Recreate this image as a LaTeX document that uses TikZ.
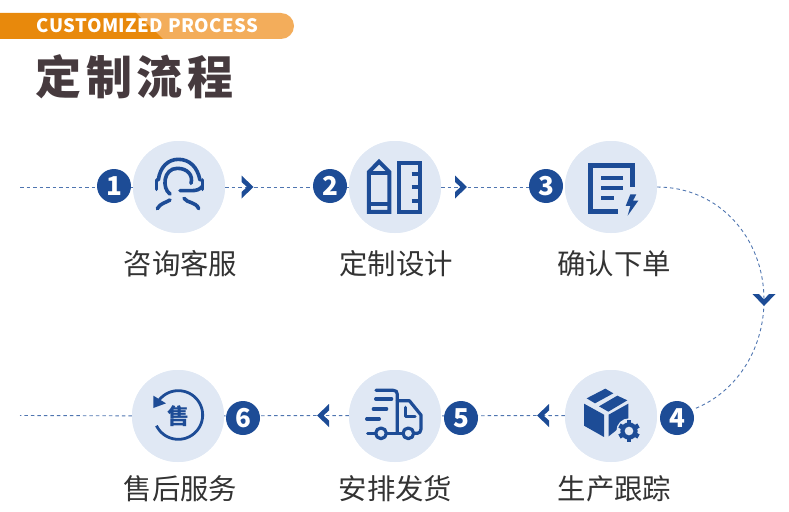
\documentclass[tikz,border=0pt]{standalone}
\usepackage{fontspec}
\setmainfont{Noto Sans CJK SC}
\definecolor{navy}{HTML}{1D4C96}
\definecolor{disc}{HTML}{E0E8F4}
\definecolor{dashc}{HTML}{4F75B0}
\definecolor{orangeA}{HTML}{E8890C}
\definecolor{orangeB}{HTML}{F3AD5B}
\definecolor{titlec}{HTML}{463A3E}
\definecolor{labelc}{HTML}{333333}
\tikzset{
  discnode/.style={circle,fill=disc,minimum size=92pt,inner sep=0pt},
  badgenode/.style={circle,fill=navy,minimum size=34pt,inner sep=0pt,text=white,font=\fontsize{26}{26}\selectfont\bfseries},
  labelnode/.style={inner sep=0pt,text=labelc,font=\fontsize{28.4}{28.4}\selectfont},
  conn/.style={draw=dashc,line width=.9pt,dash pattern=on 3.5pt off 3pt},
  zoomgrid/.style={x=.3333pt,y=-.3333pt},
  iconline/.style={draw=navy,line width=#1,fill=none},
  chevron/.pic={\fill[navy] (-6,-11.5) -- (6,0) -- (-6,11.5) -- (-6,5) -- (-0.5,0) -- (-6,-5) -- cycle;}
}
\begin{document}
\begin{tikzpicture}[x=1pt,y=-1pt]
\useasboundingbox (0,0) rectangle (789,511);
% banner
\fill[orangeB,rounded corners=13pt] (100,13) rectangle (294,39);
\fill[orangeB] (0,13) rectangle (120,39);
\fill[orangeA] (0,13) -- (136,13) -- (163,39) -- (0,39) -- cycle;
\node[anchor=base west,inner sep=0pt,text=white,font=\fontsize{18.5}{18.5}\selectfont\bfseries] (bannertext) at (36.5,33) {\addfontfeatures{LetterSpace=2.6}CUSTOMIZED PROCESS};
\node[anchor=center,inner sep=0pt,text=titlec,font=\fontsize{46}{46}\selectfont\bfseries] (title) at (134.5,77) {\addfontfeatures{LetterSpace=9.5}定制流程};
% coordinates
\coordinate (start1) at (20,187);
\coordinate (start2) at (20,415.5);
\coordinate (ch1) at (247.5,187);
\coordinate (ch2) at (461,187);
\coordinate (ch3) at (764,300);
\coordinate (ch4) at (543,415.5);
\coordinate (ch5) at (323,415.5);
% discs and badges
\node[discnode] (c1) at (179,187) {};
\node[discnode] (c2) at (395,187) {};
\node[discnode] (c3) at (611,187) {};
\node[discnode] (c4) at (611,416) {};
\node[discnode] (c5) at (395,416) {};
\node[discnode] (c6) at (178,416) {};
% connectors
\draw[conn] (start1) -- (c1);
\draw[conn] (c1) -- (ch1);
\draw[conn] (ch1) -- (c2);
\draw[conn] (c2) -- (ch2);
\draw[conn] (ch2) -- (c3);
\coordinate (arcS) at (657,187);
\coordinate (arcE) at (694,409);
\draw[conn] (arcS) .. controls (719,187) and (764,238) .. (ch3) .. controls (764,351) and (735,393) .. (arcE);
\draw[conn] (c4) -- (ch4);
\draw[conn] (ch4) -- (c5);
\draw[conn] (c5) -- (ch5);
\draw[conn] (ch5) -- (c6);
\draw[conn] (c6) -- (start2);
\fill[disc] (c1) circle (46); \fill[disc] (c2) circle (46); \fill[disc] (c3) circle (46);
\fill[disc] (c4) circle (46); \fill[disc] (c5) circle (46); \fill[disc] (c6) circle (46);
\pic at (ch1) {chevron};
\pic at (ch2) {chevron};
\pic[rotate=-90] at (ch3) {chevron};
\pic[rotate=180] at (ch4) {chevron};
\pic[rotate=180] at (ch5) {chevron};
\node[badgenode] (b1) at (114,186) {1};
\node[badgenode] (b2) at (330,186) {2};
\node[badgenode] (b3) at (546,186) {3};
\node[badgenode] (b4) at (677,418) {4};
\node[badgenode] (b5) at (461,418) {5};
\node[badgenode] (b6) at (243,418) {6};
% labels
\node[labelnode] (l1) at (180.5,264) {咨询客服};
\node[labelnode] (l2) at (396,264) {定制设计};
\node[labelnode] (l3) at (614,264) {确认下单};
\node[labelnode] (l4) at (614.5,489) {生产跟踪};
\node[labelnode] (l5) at (395.5,489) {安排发货};
\node[labelnode] (l6) at (180.5,489) {售后服务};
% icon 1
\begin{scope}[shift={(90,130)},zoomgrid,line cap=round]
\draw[iconline=3.6pt] (205,150) .. controls (210,110) and (235,88) .. (265,88) .. controls (298,88) and (322,110) .. (330,150);
\draw[iconline=3.6pt] (200,150) -- (200,178);
\draw[iconline=3.6pt] (338,150) -- (338,178);
\draw[iconline=3.6pt] (240,192) .. controls (215,175) and (220,115) .. (262,115) .. controls (292,115) and (310,135) .. (303,160);
\draw[iconline=3.6pt] (270,182) -- (305,182) .. controls (320,182) and (330,178) .. (336,170);
\draw[iconline=3.6pt] (202,236) .. controls (210,220) and (228,218) .. (240,210);
\draw[iconline=3.6pt] (282,205) .. controls (292,220) and (318,215) .. (326,236);
\end{scope}
% icon 2
\begin{scope}[shift={(310,130)},zoomgrid,line join=miter]
\draw[iconline=4pt] (177,126) -- (207,95) -- (238,126) -- (238,246) -- (177,246) -- cycle;
\draw[iconline=4pt] (177,129) -- (238,129);
\draw[iconline=4pt] (177,222) -- (238,222);
\draw[iconline=4pt] (266,100) rectangle (331,246);
\draw[iconline=4pt] (305,132) -- (331,132);
\draw[iconline=4pt] (305,172) -- (331,172);
\draw[iconline=4pt] (305,212) -- (331,212);
\end{scope}
% icon 3
\begin{scope}[shift={(525,130)},zoomgrid]
\draw[iconline=4.6pt] (323,170) -- (323,106) -- (197,106) -- (197,245) -- (280,245);
\draw[iconline=4.2pt] (228,144) -- (293,144);
\draw[iconline=4.2pt] (228,173) -- (293,173);
\draw[iconline=4.2pt] (228,203) -- (266,203);
\fill[navy] (316,193) -- (302,228) -- (316,228) -- (308,257) -- (340,212) -- (324,212) -- (334,193) -- cycle;
\end{scope}
% icon 4
\begin{scope}[shift={(530,365)},zoomgrid]
\fill[navy] (162,116) -- (222,149) -- (222,216) -- (162,182) -- cycle;
\fill[navy] (236,149) -- (295,116) -- (295,166) -- (270,172) -- (260,195) -- (236,214) -- cycle;
\fill[navy] (170,100) -- (226,71) -- (250,85) -- (195,115) -- cycle;
\fill[navy] (207,124) -- (262,92) -- (292,106) -- (235,140) -- cycle;
\fill[disc] (297,198) circle (38);
\foreach \a in {0,60,...,300}{\fill[navy,shift={(297,198)},rotate=\a] (-7,-33) rectangle (7,-15);}
\fill[navy] (297,198) circle (26);
\fill[disc] (297,198) circle (13);
\end{scope}
% icon 5
\begin{scope}[shift={(310,365)},zoomgrid,line cap=round,line join=round]
\draw[iconline=3.2pt] (198,76) -- (250,76) .. controls (258,76) and (262,80) .. (262,88) -- (262,205);
\draw[iconline=3.2pt] (262,107) -- (298,107) -- (333,150) -- (333,192) .. controls (333,200) and (328,205) .. (322,205) -- (312,205);
\draw[iconline=3.2pt] (287,127) -- (287,155) -- (315,155);
\draw[iconline=3.2pt] (197,102) -- (245,102);
\draw[iconline=3.2pt] (190,132) -- (230,132);
\draw[iconline=3.2pt] (170,162) -- (208,162);
\draw[iconline=3.2pt] (173,205) -- (197,205);
\draw[iconline=3.2pt] (230,205) -- (278,205);
\draw[iconline=3.2pt] (213,205) circle (16);
\draw[iconline=3.2pt] (295,205) circle (16);
\end{scope}
% icon 6
\begin{scope}[shift={(100,365)},zoomgrid]
\draw[iconline=2.8pt] plot[domain=-143:154,samples=60,smooth] ({235+73*cos(\x)},{150+73*sin(\x)});
\fill[navy] (160,92) -- (160,129) -- (198,115) -- cycle;
\node[inner sep=0pt,text=navy,font=\fontsize{22}{22}\selectfont\bfseries] (shou) at (235,152) {售};
\end{scope}
\end{tikzpicture}
\end{document}
